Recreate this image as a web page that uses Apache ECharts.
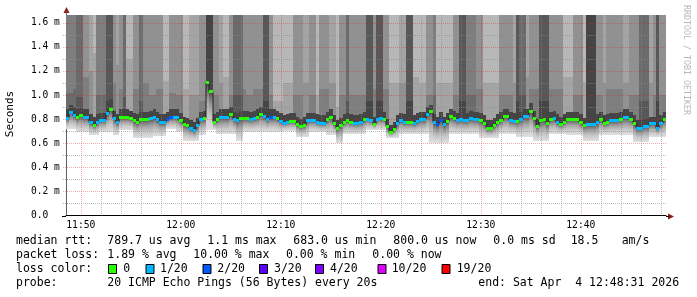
<!DOCTYPE html>
<html><head><meta charset="utf-8">
<script src="https://cdn.jsdelivr.net/npm/echarts@6/dist/echarts.min.js"></script>
<style>html,body{margin:0;padding:0;background:#fff}#c{width:697px;height:297px}</style>
</head><body><div id="c"></div>
<script>
// ---------------- data ----------------
const startTime = '11:48:31';
const stepSeconds = 20;
const timeLabels = ['11:50','12:00','12:10','12:20','12:30','12:40'];
const yTickValues = [0, 0.2, 0.4, 0.6, 0.8, 1.0, 1.2, 1.4, 1.6];
const yTickLabels = ['0.0', '0.2 m', '0.4 m', '0.6 m', '0.8 m', '1.0 m', '1.2 m', '1.4 m', '1.6 m'];
const yMax = 1.664;

// median rtt (ms) per 20 s step
const median = [
0.81,0.86,0.83,0.82,0.83,0.82,0.82,0.78,0.75,0.78, 0.79,0.79,0.85,0.88,0.81,0.78,0.82,0.82,0.82,0.81,
0.79,0.78,0.80,0.80,0.80,0.81,0.82,0.80,0.78,0.78, 0.80,0.82,0.82,0.82,0.79,0.76,0.75,0.73,0.71,0.75,
0.80,0.81,1.11,1.03,0.78,0.80,0.82,0.815,0.82,0.84, 0.80,0.79,0.81,0.81,0.81,0.80,0.81,0.82,0.84,0.825,
0.80,0.82,0.82,0.81,0.785,0.77,0.78,0.785,0.785,0.76, 0.74,0.755,0.79,0.79,0.79,0.775,0.765,0.77,0.80,0.82,
0.77,0.73,0.75,0.78,0.79,0.78,0.77,0.77,0.78,0.80, 0.80,0.79,0.76,0.80,0.81,0.80,0.74,0.69,0.72,0.77,
0.79,0.78,0.776,0.776,0.77,0.785,0.80,0.80,0.84,0.865, 0.775,0.757,0.796,0.76,0.785,0.825,0.81,0.79,0.805,0.79,
0.79,0.81,0.80,0.80,0.79,0.77,0.73,0.73,0.755,0.776, 0.796,0.824,0.824,0.796,0.788,0.785,0.80,0.825,0.825,0.87,
0.81,0.74,0.79,0.80,0.77,0.80,0.81,0.78,0.76,0.78, 0.80,0.80,0.80,0.80,0.78,0.75,0.76,0.76,0.76,0.78,
0.80,0.77,0.78,0.79,0.79,0.79,0.80,0.82,0.82,0.80, 0.77,0.73,0.73,0.74,0.745,0.765,0.765,0.73,0.77,0.80
];
// lost pings (out of 20) per step
const loss = [
1,1,1,0,0,1,1,1,0,1, 1,1,1,0,1,1,0,0,0,0, 0,0,0,0,0,1,1,1,1,1, 2,2,1,1,0,0,0,1,1,1,
1,0,0,0,0,0,1,1,1,0, 1,1,0,0,0,1,1,0,0,1, 1,2,1,0,1,1,1,0,0,0, 0,0,1,1,1,1,1,1,0,0,
0,0,0,0,0,0,1,1,1,0, 1,1,0,1,1,0,0,0,0,1, 1,1,0,0,1,1,1,1,1,0, 1,2,2,1,0,0,0,1,1,1,
1,1,1,1,0,0,0,0,0,0, 0,0,0,1,1,0,1,1,1,0, 0,0,0,0,0,0,1,1,0,0, 0,0,0,0,0,0,1,1,1,1,
0,0,0,1,1,1,0,1,1,0, 0,1,1,1,1,1,1,1,1,0
];
// fastest ping (ms) per step: bottom of the smoke
const minRtt = [
0.72,0.72,0.72,0.69,0.69,0.69,0.69,0.67,0.67,0.67, 0.69,0.69,0.69,0.69,0.67,0.67,0.71,0.71,0.71,0.71,
0.64,0.64,0.64,0.64,0.64,0.64,0.66,0.66,0.66,0.66, 0.72,0.72,0.72,0.69,0.69,0.62,0.62,0.62,0.62,0.62,
0.67,0.67,0.71,0.71,0.71,0.68,0.68,0.68,0.68,0.68, 0.68,0.62,0.62,0.69,0.69,0.69,0.69,0.69,0.69,0.69,
0.69,0.69,0.69,0.69,0.69,0.70,0.70,0.70,0.70,0.65, 0.65,0.65,0.65,0.69,0.69,0.69,0.69,0.69,0.67,0.67,
0.67,0.60,0.60,0.68,0.68,0.68,0.68,0.68,0.68,0.68, 0.71,0.71,0.71,0.71,0.71,0.71,0.64,0.64,0.64,0.64,
0.68,0.68,0.68,0.68,0.68,0.68,0.68,0.68,0.68,0.605, 0.605,0.605,0.605,0.605,0.605,0.68,0.68,0.68,0.68,0.68,
0.68,0.68,0.68,0.68,0.64,0.64,0.64,0.64,0.64,0.64, 0.68,0.68,0.68,0.68,0.68,0.65,0.65,0.65,0.65,0.65,
0.62,0.62,0.62,0.62,0.62,0.68,0.68,0.68,0.68,0.68, 0.67,0.67,0.67,0.67,0.67,0.62,0.62,0.62,0.62,0.62,
0.67,0.67,0.67,0.67,0.67,0.67,0.67,0.67,0.67,0.67, 0.61,0.61,0.61,0.61,0.61,0.65,0.65,0.65,0.65,0.65
];
// number of slower pings (above the median) still inside the axis range
const upperCount = [
3,3,3,2,2,4,4,5,6,3, 3,3,1,1,4,5,4,2,6,6, 4,4,2,4,4,4,4,4,4,6, 6,4,4,4,4,6,6,5,5,5,
4,4,0,0,4,4,5,6,6,4, 2,2,2,4,4,4,4,4,4,1, 1,4,6,6,6,6,6,6,4,4, 4,5,5,4,4,6,4,4,4,5,
5,6,4,4,2,4,4,4,4,4, 1,1,4,1,1,4,4,6,6,6, 5,5,1,1,6,6,6,6,4,4, 3,6,6,6,6,6,4,4,1,1,
3,3,3,4,4,6,6,6,6,6, 4,4,4,4,5,1,2,2,5,4, 4,4,1,1,1,4,4,4,4,6, 6,6,4,4,4,6,0,0,0,4,
4,5,4,4,4,4,4,5,5,4, 4,4,2,2,2,5,4,1,4,4
];
// top of the dark band right above the median (ms)
const upperNear = [
0.88,0.92,0.90,0.88,0.89,0.88,0.88,0.84,0.82,0.84, 0.85,0.85,0.91,0.94,0.87,0.84,0.88,0.88,0.88,0.87,
0.85,0.84,0.86,0.86,0.86,0.87,0.88,0.86,0.84,0.84, 0.86,0.88,0.88,0.88,0.85,0.82,0.81,0.79,0.78,0.81,
0.86,0.87,1.20,1.20,0.84,0.86,0.88,0.88,0.88,0.90, 0.86,0.85,0.87,0.87,0.87,0.86,0.87,0.88,0.90,0.88,
0.86,0.88,0.88,0.87,0.85,0.83,0.84,0.85,0.85,0.82, 0.80,0.82,0.85,0.85,0.85,0.84,0.83,0.83,0.86,0.88,
0.83,0.79,0.81,0.84,0.85,0.84,0.83,0.83,0.84,0.86, 0.86,0.85,0.82,0.86,0.87,0.86,0.80,0.75,0.78,0.83,
0.85,0.84,0.84,0.84,0.83,0.85,0.86,0.86,0.90,0.92, 0.84,0.82,0.86,0.82,0.85,0.88,0.87,0.85,0.87,0.85,
0.85,0.87,0.86,0.86,0.85,0.83,0.79,0.79,0.81,0.84, 0.86,0.88,0.88,0.86,0.85,0.85,0.86,0.88,0.88,0.93,
0.87,0.80,0.85,0.86,0.83,0.86,0.87,0.84,0.82,0.84, 0.86,0.86,0.86,0.86,0.84,0.81,0.82,0.82,0.82,0.84,
0.86,0.83,0.84,0.85,0.85,0.85,0.86,0.88,0.88,0.86, 0.83,0.79,0.79,0.80,0.80,0.82,0.82,0.79,0.83,0.86
];
// where the outermost visible shade of the slow pings begins (ms)
const upperFar = [
1.02,1.02,1.05,0.98,0.98,1.15,1.15,1.20,1.35,1.00, 1.00,1.00,0.95,0.97,1.10,1.25,1.05,0.98,1.30,1.30,
1.05,1.05,0.95,1.10,1.10,1.00,1.00,1.05,1.05,1.12, 1.12,1.02,1.02,1.00,1.00,1.05,1.05,1.00,1.00,1.00,
0.95,0.95,1.20,1.20,1.00,1.00,1.10,1.15,1.15,1.00, 1.00,1.00,1.00,1.05,1.00,1.00,1.05,1.05,1.05,0.95,
0.95,1.00,0.95,0.95,0.95,1.10,1.10,1.10,1.00,1.00, 1.00,1.10,1.10,1.00,1.00,1.00,1.05,1.05,1.05,1.10,
1.10,0.90,1.00,1.00,0.95,1.00,1.00,1.00,1.00,1.00, 0.95,0.95,1.05,0.95,0.95,1.05,1.05,1.10,1.10,1.10,
1.10,1.10,0.95,0.95,1.15,1.15,1.10,1.10,1.00,1.00, 1.00,1.10,1.10,1.10,1.10,1.10,1.00,1.00,0.95,0.95,
1.00,1.00,1.00,1.05,1.05,1.10,1.10,1.10,1.10,1.10, 1.00,1.00,1.00,1.00,1.10,0.95,1.00,1.00,1.15,1.05,
1.05,1.05,0.95,0.95,0.95,1.05,1.05,1.05,1.05,1.15, 1.15,1.15,1.00,1.00,1.00,1.10,1.20,1.20,1.20,1.00,
1.00,1.10,1.05,1.05,1.05,1.05,1.05,1.10,1.10,1.00, 1.00,1.00,0.95,0.95,0.95,1.10,1.00,0.95,1.00,1.00
];
// loss colour legend
const lossThresholds = [0, 1, 2, 3, 4, 10, 19];
const lossLabels = ['0', '1/20', '2/20', '3/20', '4/20', '10/20', '19/20'];
const lossColors = ['#26ff00', '#00b8ff', '#0059ff', '#5e00ff', '#7e00ff', '#dd00ff', '#ff0000'];
// statistics text
const statRtt = ['789.7 us avg', '1.1 ms max', '683.0 us min', '800.0 us now', '0.0 ms sd', '18.5', 'am/s'];
const statLoss = ['1.89 % avg', '10.00 % max', '0.00 % min', '0.00 % now'];
const probeText = '20 ICMP Echo Pings (56 Bytes) every 20s';
const endText = 'end: Sat Apr  4 12:48:31 2026';

// ---------------- helpers ----------------
const MONO = '"DejaVu Sans Mono", monospace';
function secOf(s) { const p = s.split(':').map(Number); return p[0] * 3600 + p[1] * 60 + (p[2] || 0); }
const t0 = secOf(startTime);
const labelOffsets = timeLabels.map(s => secOf(s) - t0);
const N = median.length;
const span = N * stepSeconds;
function gray(k) { const g = Math.round(190 / 10 * k + 50); return 'rgb(' + g + ',' + g + ',' + g + ')'; }
function lossColor(n) { let c = lossColors[0]; lossThresholds.forEach((t, j) => { if (n >= t) c = lossColors[j]; }); return c; }

const vGrid = [];
for (let s = labelOffsets[0]; s < span; s += 120) vGrid.push([s, labelOffsets.indexOf(s) >= 0 ? 1 : 0]);
const hGrid = [];
for (let k = 1; k <= 16; k++) hGrid.push([k / 10, k % 2 === 0 ? 1 : 0]);

const colData = median.map((v, i) => [i * stepSeconds, v]);

function colX(api, i) {
  return [Math.round(api.coord([i * stepSeconds, 0])[0]), Math.round(api.coord([(i + 1) * stepSeconds, 0])[0])];
}
function py(api, v) { return Math.round(api.coord([0, Math.min(v, yMax)])[1]); }

function smokeItem(params, api) {
  const i = params.dataIndex;
  const [xa, xb] = colX(api, i);
  const med = median[i], m = upperCount[i];
  const segs = [];
  if (m === 0) segs.push([med, yMax, 1]);
  else if (m === 1) segs.push([med, upperFar[i], 1], [upperFar[i], yMax, 2]);
  else segs.push([med, upperNear[i], 1], [upperNear[i], upperFar[i], m], [upperFar[i], yMax, m + 1]);
  const children = [];
  segs.forEach(s => {
    if (s[1] <= s[0]) return;
    const yt = py(api, s[1]), yb = py(api, s[0]);
    children.push({ type: 'rect', shape: { x: xa, y: yt, width: xb - xa, height: yb - yt }, style: { fill: gray(s[2]) } });
  });
  const ym = py(api, med), yl = py(api, minRtt[i]);
  children.push({ type: 'rect', shape: { x: xa, y: ym, width: xb - xa, height: yl - ym },
    style: { fill: new echarts.graphic.LinearGradient(0, 0, 0, 1, [
      { offset: 0, color: '#404040' }, { offset: 0.15, color: '#707070' }, { offset: 0.4, color: '#a4a4a4' },
      { offset: 0.7, color: '#cacaca' }, { offset: 1, color: '#e0e0e0' }]) } });
  return { type: 'group', children };
}
function medianLineItem(params, api) {
  const i = params.dataIndex;
  const [xa, xb] = colX(api, i);
  const y = py(api, median[i]) + 0.5;
  const pts = [[xa, y], [xb, y]];
  if (i < N - 1) pts.push([xb, py(api, median[i + 1]) + 0.5]);
  return { type: 'polyline', shape: { points: pts }, style: { stroke: '#202020', lineWidth: 1, fill: null } };
}
function lossItem(params, api) {
  const i = params.dataIndex;
  const [xa, xb] = colX(api, i);
  const y = py(api, median[i]);
  return { type: 'rect', shape: { x: xa, y: y - 1, width: xb - xa, height: 3 }, style: { fill: lossColor(loss[i]) } };
}
function vGridItem(params, api) {
  const x = Math.round(api.coord([api.value(0), 0])[0]) + 0.5;
  const yb = api.coord([0, 0])[1], yt = api.coord([0, yMax])[1];
  const major = api.value(1) === 1;
  return { type: 'line', shape: { x1: x, y1: yt, x2: x, y2: yb },
    style: { stroke: major ? 'rgba(200,40,40,0.38)' : 'rgba(140,140,140,0.6)', lineWidth: 1, lineDash: [1, 1] } };
}
function hGridItem(params, api) {
  const y = Math.round(api.coord([0, api.value(0)])[1]) + 0.5;
  const xl = api.coord([0, 0])[0] - 3, xr = api.coord([span, 0])[0];
  const major = api.value(1) === 1;
  return { type: 'line', shape: { x1: xl, y1: y, x2: xr, y2: y },
    style: { stroke: major ? 'rgba(200,40,40,0.38)' : 'rgba(140,140,140,0.6)', lineWidth: 1, lineDash: [1, 1] } };
}

const chart = echarts.init(document.getElementById('c'), null, { renderer: 'canvas' });
const option = {
  animation: false,
  backgroundColor: '#ffffff',
  grid: { left: 66, right: 31, top: 15, bottom: 81.5 },
  xAxis: {
    type: 'value', min: 0, max: span,
    axisLine: { show: true, lineStyle: { color: '#000', width: 1 } },
    axisTick: { show: false }, splitLine: { show: false },
    axisLabel: {
      customValues: labelOffsets,
      formatter: v => { const j = labelOffsets.indexOf(v); return j >= 0 ? timeLabels[j] : ''; },
      fontFamily: MONO, fontSize: 9.7, color: '#000', margin: 5
    }
  },
  yAxis: {
    type: 'value', min: 0, max: yMax,
    axisLine: { show: true, lineStyle: { color: '#606060', width: 1 } },
    axisTick: { show: false }, splitLine: { show: false },
    axisLabel: {
      customValues: yTickValues,
      formatter: v => { const j = yTickValues.findIndex(t => Math.abs(t - v) < 1e-9); return j >= 0 ? yTickLabels[j] : ''; },
      fontFamily: MONO, fontSize: 9.6, color: '#000', align: 'left', margin: 35
    }
  },
  series: [
    { type: 'custom', name: 'smoke', z: 1, data: colData, encode: { x: 0, y: 1 }, renderItem: smokeItem, silent: true },
    { type: 'custom', name: 'vgrid', z: 3, data: vGrid, encode: { x: 0 }, renderItem: vGridItem, silent: true },
    { type: 'custom', name: 'hgrid', z: 3, data: hGrid, encode: { y: 0 }, renderItem: hGridItem, silent: true },
    { type: 'custom', name: 'median', z: 4, data: colData, encode: { x: 0, y: 1 }, renderItem: medianLineItem, silent: true },
    { type: 'custom', name: 'loss', z: 5, data: colData, encode: { x: 0, y: 1 }, renderItem: lossItem, silent: true }
  ]
};
chart.setOption(option);

// ---------- decorations: arrows, titles, legend ----------
const tl = chart.convertToPixel({ gridIndex: 0 }, [0, yMax]);
const br = chart.convertToPixel({ gridIndex: 0 }, [span, 0]);
const ax = Math.round(tl[0]), ay = Math.round(br[1]) + 0.5;
const g = [];
g.push({ type: 'polygon', shape: { points: [[ax + 0.5, tl[1] - 8], [ax - 2.5, tl[1] - 2], [ax + 3.5, tl[1] - 2]] }, style: { fill: '#8a1c1c' } });
g.push({ type: 'polygon', shape: { points: [[br[0] + 8, ay], [br[0] + 2, ay - 3], [br[0] + 2, ay + 3]] }, style: { fill: '#8a1c1c' } });
g.push({ type: 'line', shape: { x1: br[0], y1: ay, x2: br[0] + 3, y2: ay }, style: { stroke: '#000', lineWidth: 1 } });
g.push({ type: 'line', shape: { x1: ax - 4, y1: ay, x2: ax, y2: ay }, style: { stroke: '#000', lineWidth: 1 } });
g.push({ type: 'line', shape: { x1: ax + 0.5, y1: tl[1] - 3, x2: ax + 0.5, y2: tl[1] }, style: { stroke: '#606060', lineWidth: 1 } });
g.push({ type: 'text', x: 10.5, y: 114, rotation: Math.PI / 2,
  style: { text: 'Seconds', font: '11px ' + MONO, fill: '#000', align: 'center', verticalAlign: 'middle' } });
g.push({ type: 'text', x: 686, y: 5, rotation: -Math.PI / 2,
  style: { text: 'RRDTOOL / TOBI OETIKER', font: '8.3px ' + MONO, fill: '#b8b8b8', align: 'left', verticalAlign: 'middle' } });

const LF = '11.5px ' + MONO;
function txt(x, y, s) { g.push({ type: 'text', x: x, y: y, style: { text: s, font: LF, fill: '#000', align: 'left', verticalAlign: 'middle' } }); }
const rowY = [241, 255.5, 269, 283];
txt(16, rowY[0], 'median rtt:');
[107.3, 207.3, 293.3, 393.3, 493.3, 570.7, 621.7].forEach((x, j) => txt(x, rowY[0], statRtt[j]));
txt(16, rowY[1], 'packet loss:');
[107.3, 193.3, 286, 372.3].forEach((x, j) => txt(x, rowY[1], statLoss[j]));
txt(16, rowY[2], 'loss color:');
const boxX = [108.5, 146, 203, 259.5, 315.5, 378, 442];
const labX = [123.3, 160, 217.3, 274, 330, 391.7, 456.7];
lossLabels.forEach((l, j) => {
  g.push({ type: 'rect', shape: { x: boxX[j], y: rowY[2] - 4.5, width: 8, height: 9 }, style: { fill: lossColors[j], stroke: '#000', lineWidth: 1 } });
  txt(labX[j], rowY[2], l);
});
txt(16, rowY[3], 'probe:');
txt(107.3, rowY[3], probeText);
txt(478.3, rowY[3], endText);
chart.setOption({ graphic: g });
</script>
</body></html>
